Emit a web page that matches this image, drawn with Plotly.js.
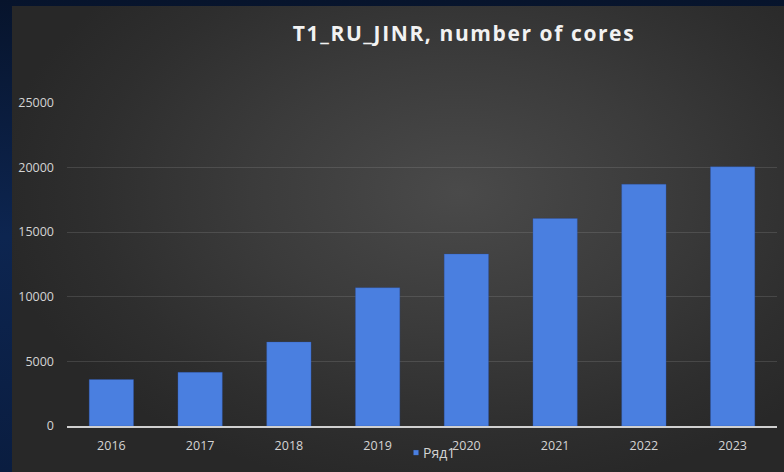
<!DOCTYPE html>
<html>
<head>
<meta charset="utf-8">
<script src="https://cdn.plot.ly/plotly-3.0.1.min.js"></script>
<style>
  html, body { margin: 0; padding: 0; width: 784px; height: 472px; overflow: hidden; background: #0b1a36; }
  #frame { position: absolute; left: 0; top: 0; width: 784px; height: 472px;
    background: linear-gradient(180deg, #07142c 0%, #0d2550 50%, #0a1d40 100%); }
  #panel { position: absolute; left: 12px; top: 6px; width: 772px; height: 466px;
    background: radial-gradient(ellipse 60% 65% at 58% 40%, #4a4a4a 0%, #3b3b3b 45%, #2e2e2e 80%, #282828 100%); }
  #chart { position: absolute; left: 0; top: 0; width: 784px; height: 472px; }
  #chart .gtitle { letter-spacing: 1.6px; }
  #chart .legendpoints path { transform: translate(33px, 0px) scale(0.42); }
</style>
</head>
<body>
<div id="frame"></div>
<div id="panel"></div>
<div id="chart"></div>
<script>
const years = ['2016', '2017', '2018', '2019', '2020', '2021', '2022', '2023'];
const cores = [3600, 4150, 6500, 10700, 13300, 16050, 18700, 20050];
const seriesName = 'Ряд1';
const yTicks = [0, 5000, 10000, 15000, 20000, 25000];
const chartTitle = 'T1_RU_JINR, number of cores';

const trace = {
  type: 'bar',
  x: years,
  y: cores,
  name: seriesName,
  marker: { color: '#4a7fe0', line: { color: 'rgba(40,80,170,0.6)', width: 0.5 } },
  hoverinfo: 'x+y'
};

const tickFont = { family: 'Open Sans, sans-serif', size: 12.5, color: '#d4d4d4' };

const layout = {
  width: 784, height: 472,
  paper_bgcolor: 'rgba(0,0,0,0)',
  plot_bgcolor: 'rgba(0,0,0,0)',
  margin: { l: 67, r: 7, t: 102, b: 46, autoexpand: false },
  bargap: 0.5,
  showlegend: true,
  title: {
    text: '<b>' + chartTitle + '</b>',
    font: { family: 'Open Sans, sans-serif', size: 21, color: '#f2f2f2' },
    x: 464 / 784, xanchor: 'center', xref: 'container',
    y: 1 - 34 / 472, yanchor: 'middle', yref: 'container'
  },
  xaxis: {
    type: 'category',
    showgrid: false,
    showline: true, linecolor: '#d0d0d0', linewidth: 2,
    ticks: '',
    tickfont: tickFont,
    ticklabelstandoff: 7
  },
  yaxis: {
    range: [0, 25060],
    tickvals: yTicks,
    ticktext: yTicks.map(String),
    showgrid: true, gridcolor: 'rgba(170,170,170,0.2)', gridwidth: 1,
    zeroline: false, showline: false,
    ticks: '',
    tickfont: tickFont,
    ticklabelstandoff: 12
  },
  legend: {
    orientation: 'h',
    xref: 'container', yref: 'container',
    x: 383 / 784, xanchor: 'left',
    y: 1 - 453 / 472, yanchor: 'middle',
    font: { family: 'Open Sans, sans-serif', size: 14, color: '#d4d4d4' },
    bgcolor: 'rgba(0,0,0,0)',
    itemwidth: 30
  }
};

Plotly.newPlot('chart', [trace], layout, { displayModeBar: false, staticPlot: true });
</script>
</body>
</html>
